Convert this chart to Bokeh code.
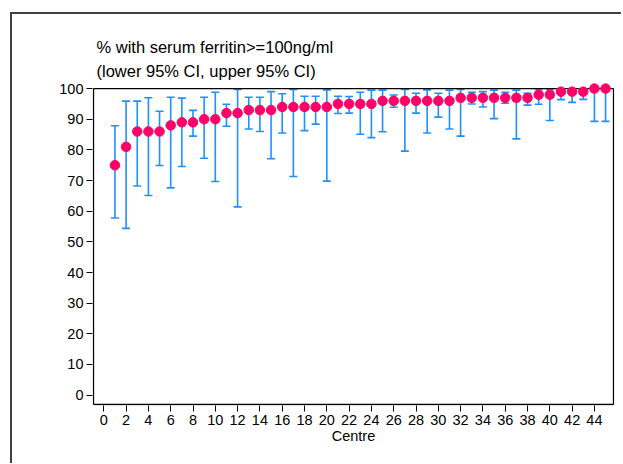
from bokeh.plotting import figure
from bokeh.layouts import column
from bokeh.models import Range1d, Whisker, TeeHead, ColumnDataSource, Title, FixedTicker
from bokeh.embed import file_html
from bokeh.resources import INLINE

centre = [1, 2, 3, 4, 5, 6, 7, 8, 9, 10, 11, 12, 13, 14, 15, 16, 17, 18, 19, 20,
          21, 22, 23, 24, 25, 26, 27, 28, 29, 30, 31, 32, 33, 34, 35, 36, 37, 38, 39, 40,
          41, 42, 43, 44, 45]
pct = [75, 81, 86, 86, 86, 88, 89, 89, 90, 90, 92, 92, 93, 93, 93, 94, 94, 94, 94, 94,
       95, 95, 95, 95, 96, 96, 96, 96, 96, 96, 96, 97, 97, 97, 97, 97, 97, 97, 98, 98,
       99, 99, 99, 100, 100]
lower = [57.8, 54.4, 68.2, 65.1, 74.9, 67.6, 74.6, 84.5, 77.3, 69.7, 87.7, 61.4, 86.8, 86.0, 77.1,
         85.5, 71.3, 86.3, 88.4, 69.8, 91.9, 92.0, 85.1, 84.0, 85.9, 93.9, 79.6, 92.0, 85.5, 90.7,
         86.8, 84.5, 95.0, 94.0, 90.2, 95.2, 83.6, 94.6, 94.9, 89.6, 96.4, 95.5, 96.5, 89.3, 89.3]
upper = [87.9, 95.9, 95.9, 97.0, 92.6, 97.2, 96.9, 92.9, 97.2, 98.8, 94.9, 99.7, 97.2, 97.2, 99.0,
         98.3, 99.7, 97.5, 97.5, 99.6, 97.5, 97.4, 98.8, 99.5, 99.5, 97.9, 99.7, 98.5, 99.6, 98.5,
         99.5, 99.7, 98.8, 99.0, 99.5, 98.8, 99.5, 98.5, 99.7, 99.7, 99.9, 99.9, 99.9, 100, 100]
x_ticks = [0, 2, 4, 6, 8, 10, 12, 14, 16, 18, 20, 22, 24, 26, 28, 30, 32, 34, 36, 38, 40, 42, 44]
y_ticks = [0, 10, 20, 30, 40, 50, 60, 70, 80, 90, 100]
title_lines = ["% with serum ferritin>=100ng/ml", "(lower 95% CI, upper 95% CI)"]
x_label = "Centre"

FONT = "Liberation Sans"
PINK = "#ff0068"
BLUE = "#1e90ff"

src = ColumnDataSource(dict(centre=centre, pct=pct, lower=lower, upper=upper))

p = figure(width=603, height=449, output_backend="svg", toolbar_location=None,
           x_range=Range1d(-1.013, 45.80), y_range=Range1d(-3.39, 101.99),
           min_border_left=80, min_border_right=1, min_border_top=68, min_border_bottom=58)
p.outline_line_color = None
p.grid.visible = False
p.background_fill_color = "white"
p.border_fill_color = "white"

# frame box drawn manually (top at 100, bottom just above frame edge)
p.segment(x0=[-0.924, -0.924, -0.924, 45.71], y0=[-3.07, 100, -3.07, -3.07],
          x1=[45.71, 45.71, -0.924, 45.71], y1=[-3.07, 100, 100, 100],
          line_color="black", line_width=1.3)

w = Whisker(base="centre", upper="upper", lower="lower", source=src,
            line_color=BLUE, line_width=1.6, level="underlay",
            upper_head=TeeHead(size=8, line_color=BLUE, line_width=1.6),
            lower_head=TeeHead(size=8, line_color=BLUE, line_width=1.6))
p.add_layout(w)

p.scatter("centre", "pct", source=src, size=9.5, fill_color=PINK, line_color=PINK)

for ax in (p.xaxis[0], p.yaxis[0]):
    ax.axis_line_color = None
    ax.minor_tick_line_color = None
    ax.major_tick_in = 0
    ax.major_tick_out = 6
    ax.major_tick_line_color = "black"
    ax.major_label_text_font = FONT
    ax.major_label_text_font_size = "14.5px"
    ax.major_label_text_color = "black"

p.xaxis.ticker = FixedTicker(ticks=x_ticks)
p.yaxis.ticker = FixedTicker(ticks=y_ticks)
p.xaxis.major_label_standoff = 3
p.yaxis.major_label_standoff = 3
p.xaxis.axis_label = x_label
p.xaxis.axis_label_text_font = FONT
p.xaxis.axis_label_text_font_size = "14.5px"
p.xaxis.axis_label_text_font_style = "normal"
p.xaxis.axis_label_text_color = "black"
p.xaxis.axis_label_standoff = 0

for i, line in enumerate(reversed(title_lines)):
    p.add_layout(Title(text=line, align="left", offset=4, text_font=FONT,
                       text_font_size="16.5px", text_font_style="normal",
                       text_color="black", standoff=(6 if i == 0 else 2)), "above")

layout = column(p, width=611,
                styles={"margin-left": "10px", "margin-top": "12px",
                        "border-left": "2px solid #404040",
                        "border-top": "2px solid #404040"})

open("out.html", "w").write(file_html(layout, INLINE))
